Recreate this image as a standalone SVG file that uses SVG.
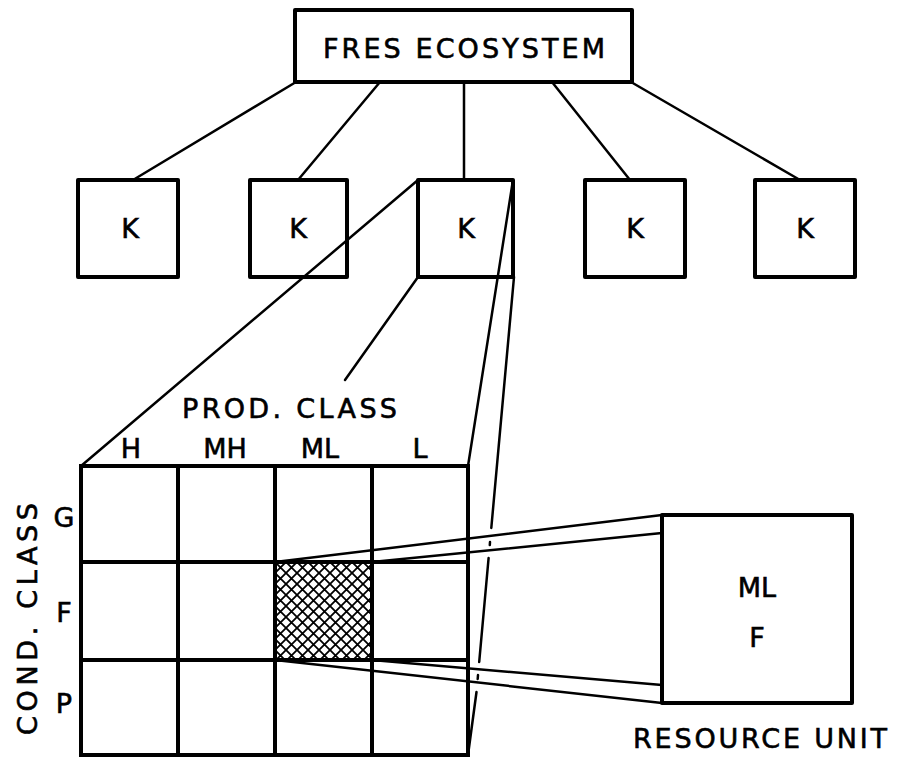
<svg xmlns="http://www.w3.org/2000/svg" width="898" height="758" viewBox="0 0 898 758">
  <defs>
    <style>
      .box { fill: none; stroke: #000; stroke-width: 4; stroke-linejoin: round; }
      .grid { fill: none; stroke: #000; stroke-width: 4; stroke-linecap: square; }
      .link { fill: none; stroke: #000; stroke-width: 2.5; stroke-linecap: round; }
      .lbl { font-family: "DejaVu Sans", "Liberation Sans", sans-serif; font-size: 27px; fill: #000; stroke: #000; stroke-width: 0.6; }
      .mid { text-anchor: middle; }
    </style>
    <pattern id="crosshatch" patternUnits="userSpaceOnUse" x="275" y="562" width="11" height="11">
      <path d="M0,0 L11,11 M11,0 L0,11" stroke="#000" stroke-width="1.8" fill="none"/>
    </pattern>
  </defs>

  <rect width="898" height="758" fill="#fff"/>

  <!-- connectors -->
  <g id="connectors">
    <!-- ecosystem to each K -->
    <line class="link" x1="296" y1="82" x2="133" y2="180"/>
    <line class="link" x1="380" y1="82" x2="298" y2="180"/>
    <line class="link" x1="464" y1="82" x2="464" y2="180"/>
    <line class="link" x1="552" y1="82" x2="630" y2="180"/>
    <line class="link" x1="631" y1="82" x2="800" y2="180"/>
    <!-- K expanded into the class matrix -->
    <line class="link" x1="418" y1="180" x2="81" y2="466"/>
    <line class="link" x1="418" y1="277" x2="345" y2="380"/>
    <line class="link" x1="513" y1="180" x2="468" y2="466"/>
    <!-- rear edge, broken where it passes behind the projection lines -->
    <line class="link" x1="514" y1="277" x2="491.3" y2="528"/>
    <line class="link" x1="490" y1="542" x2="489.8" y2="545"/>
    <line class="link" x1="488.6" y1="558" x2="479.2" y2="662"/>
    <line class="link" x1="478" y1="675" x2="477.7" y2="679"/>
    <line class="link" x1="476.5" y1="692" x2="468" y2="755"/>
    <!-- selected cell projected onto the resource unit -->
    <line class="link" x1="275" y1="562" x2="662" y2="515"/>
    <line class="link" x1="372" y1="562" x2="662" y2="533"/>
    <line class="link" x1="275" y1="660" x2="662" y2="703"/>
    <line class="link" x1="372" y1="660" x2="662" y2="685"/>
  </g>

  <!-- top node -->
  <g id="ecosystem">
    <rect class="box" x="295" y="10" width="337" height="72"/>
    <text class="lbl" x="323" y="58" textLength="282" lengthAdjust="spacing">FRES ECOSYSTEM</text>
  </g>

  <!-- K nodes -->
  <g id="k1">
    <rect class="box" x="78" y="180" width="100" height="97"/>
    <text class="lbl mid" x="130" y="238">K</text>
  </g>
  <g id="k2">
    <rect class="box" x="250" y="180" width="97" height="97"/>
    <text class="lbl mid" x="298" y="238">K</text>
  </g>
  <g id="k3">
    <rect class="box" x="418" y="180" width="95" height="97"/>
    <text class="lbl mid" x="466" y="238">K</text>
  </g>
  <g id="k4">
    <rect class="box" x="585" y="180" width="100" height="97"/>
    <text class="lbl mid" x="635" y="238">K</text>
  </g>
  <g id="k5">
    <rect class="box" x="755" y="180" width="100" height="97"/>
    <text class="lbl mid" x="805" y="238">K</text>
  </g>

  <!-- class matrix -->
  <g id="matrix">
    <rect x="275" y="562" width="97" height="98" fill="url(#crosshatch)"/>
    <rect class="grid" x="81" y="466" width="387" height="289"/>
    <line class="grid" x1="178" y1="466" x2="178" y2="755"/>
    <line class="grid" x1="275" y1="466" x2="275" y2="755"/>
    <line class="grid" x1="372" y1="466" x2="372" y2="755"/>
    <line class="grid" x1="81" y1="562" x2="468" y2="562"/>
    <line class="grid" x1="81" y1="660" x2="468" y2="660"/>
    <text class="lbl" x="182" y="418" textLength="215" lengthAdjust="spacing">PROD. CLASS</text>
    <text class="lbl mid" x="131" y="458">H</text>
    <text class="lbl mid" x="225" y="458">MH</text>
    <text class="lbl mid" x="320" y="458">ML</text>
    <text class="lbl mid" x="420" y="458">L</text>
    <text class="lbl mid" transform="translate(37,619) rotate(-90)" textLength="232" lengthAdjust="spacing">COND. CLASS</text>
    <text class="lbl mid" x="64" y="527">G</text>
    <text class="lbl mid" x="64" y="622">F</text>
    <text class="lbl mid" x="64" y="713">P</text>
  </g>

  <!-- resource unit -->
  <g id="resource-unit">
    <rect class="box" x="662" y="515" width="190" height="188"/>
    <text class="lbl mid" x="757" y="597">ML</text>
    <text class="lbl mid" x="757" y="647">F</text>
    <text class="lbl" x="633" y="748" textLength="254" lengthAdjust="spacing">RESOURCE UNIT</text>
  </g>
</svg>
